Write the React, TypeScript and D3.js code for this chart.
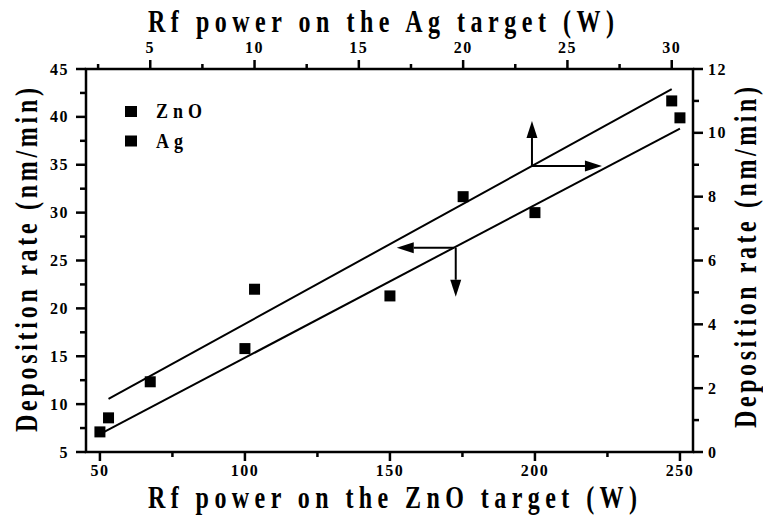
import React from "react";
import * as d3 from "d3";

// Measured series: ZnO against bottom/left axes, Ag against top/right axes
const znoPower = [50, 100, 150, 200, 250];
const znoRate = [7.1, 15.8, 21.3, 30.0, 39.9];
const agPower = [3, 5, 10, 20, 30];
const agRate = [1.07, 2.2, 5.1, 8.0, 11.0];

const bottomTicks = [50, 100, 150, 200, 250];
const bottomMinor = [75, 125, 175, 225];
const topTicks = [5, 10, 15, 20, 25, 30];
const topMinor = [2.5, 7.5, 12.5, 17.5, 22.5, 27.5];
const leftTicks = [5, 10, 15, 20, 25, 30, 35, 40, 45];
const leftMinor = [7.5, 12.5, 17.5, 22.5, 27.5, 32.5, 37.5, 42.5];
const rightTicks = [0, 2, 4, 6, 8, 10, 12];
const rightMinor = [1, 3, 5, 7, 9, 11];

const legendLabels = ["ZnO", "Ag"];
const titleTop = "Rf power on the Ag target (W)";
const titleBottom = "Rf power on the ZnO target (W)";
const titleY = "Deposition rate (nm/min)";

const FONT = "Liberation Serif, Times New Roman, serif";

function linFit(xs: number[], ys: number[]) {
  const mx = d3.mean(xs)!;
  const my = d3.mean(ys)!;
  let sxy = 0;
  let sxx = 0;
  xs.forEach((x, i) => {
    sxy += (x - mx) * (ys[i] - my);
    sxx += (x - mx) * (x - mx);
  });
  const slope = sxy / sxx;
  return (x: number) => my + slope * (x - mx);
}

function Arrow({ x1, y1, x2, y2 }: { x1: number; y1: number; x2: number; y2: number }) {
  const len = Math.hypot(x2 - x1, y2 - y1);
  const ux = (x2 - x1) / len;
  const uy = (y2 - y1) / len;
  const hl = 17;
  const hw = 5.5;
  const bx = x2 - ux * hl;
  const by = y2 - uy * hl;
  const pts = [
    [x2, y2],
    [bx - uy * hw, by + ux * hw],
    [bx + uy * hw, by - ux * hw],
  ];
  return (
    <g>
      <line x1={x1} y1={y1} x2={bx} y2={by} stroke="#000" strokeWidth={2} />
      <polygon points={pts.map((p) => p.join(",")).join(" ")} fill="#000" />
    </g>
  );
}

export default function App() {
  const L = 86,
    R = 693,
    T = 69,
    B = 452;
  const xBottom = d3.scaleLinear().domain([45.2, 254.5]).range([L, R]);
  const xTop = d3.scaleLinear().domain([1.92, 31.02]).range([L, R]);
  const yLeft = d3.scaleLinear().domain([5, 45]).range([B, T]);
  const yRight = d3.scaleLinear().domain([0, 12]).range([B, T]);

  const znoFit = linFit(znoPower, znoRate);
  const agFit = linFit(agPower, agRate);

  const znoLine = d3
    .line<number>()
    .x((d) => xBottom(d))
    .y((d) => yLeft(znoFit(d)));
  const agLine = d3
    .line<number>()
    .x((d) => xTop(d))
    .y((d) => yRight(agFit(d)));

  const sq = 11;
  const tickStyle: React.CSSProperties = {
    fontFamily: FONT,
    fontWeight: 700,
    fontSize: 16,
    letterSpacing: 1.5,
  };
  const titleStyle: React.CSSProperties = {
    fontFamily: FONT,
    fontWeight: 700,
    fontSize: 24,
  };

  // arrow anchor points on the fits
  const agAx = xTop(23.3);
  const agAy = yRight(agFit(23.3));
  const znAx = xBottom(172);
  const znAy = yLeft(znoFit(172));

  return (
    <svg
      width={763}
      height={518}
      style={{ position: "absolute", left: 0, top: 0, background: "#fff" }}
    >
      <rect width={763} height={518} fill="#fff" />

      {/* frame */}
      <rect x={L} y={T} width={R - L} height={B - T} fill="none" stroke="#000" strokeWidth={2.5} />

      {/* bottom axis */}
      {bottomTicks.map((t) => (
        <g key={"b" + t}>
          <line x1={xBottom(t)} x2={xBottom(t)} y1={B} y2={B + 9} stroke="#000" strokeWidth={2.5} />
          <text x={xBottom(t)} y={476} textAnchor="middle" style={tickStyle}>
            {t}
          </text>
        </g>
      ))}
      {bottomMinor.map((t) => (
        <line key={"bm" + t} x1={xBottom(t)} x2={xBottom(t)} y1={B} y2={B + 5} stroke="#000" strokeWidth={2.5} />
      ))}

      {/* top axis */}
      {topTicks.map((t) => (
        <g key={"t" + t}>
          <line x1={xTop(t)} x2={xTop(t)} y1={T} y2={T - 9} stroke="#000" strokeWidth={2.5} />
          <text x={xTop(t)} y={53} textAnchor="middle" style={tickStyle}>
            {t}
          </text>
        </g>
      ))}
      {topMinor.map((t) => (
        <line key={"tm" + t} x1={xTop(t)} x2={xTop(t)} y1={T} y2={T - 5} stroke="#000" strokeWidth={2.5} />
      ))}

      {/* left axis */}
      {leftTicks.map((t) => (
        <g key={"l" + t}>
          <line x1={L} x2={L - 10} y1={yLeft(t)} y2={yLeft(t)} stroke="#000" strokeWidth={2.5} />
          <text x={69} y={yLeft(t) + 5.5} textAnchor="end" style={tickStyle}>
            {t}
          </text>
        </g>
      ))}
      {leftMinor.map((t) => (
        <line key={"lm" + t} x1={L} x2={L - 6} y1={yLeft(t)} y2={yLeft(t)} stroke="#000" strokeWidth={2.5} />
      ))}

      {/* right axis */}
      {rightTicks.map((t) => (
        <g key={"r" + t}>
          <line x1={R} x2={R + 10} y1={yRight(t)} y2={yRight(t)} stroke="#000" strokeWidth={2.5} />
          <text x={708} y={yRight(t) + 5.5} textAnchor="start" style={tickStyle}>
            {t}
          </text>
        </g>
      ))}
      {rightMinor.map((t) => (
        <line key={"rm" + t} x1={R} x2={R + 6} y1={yRight(t)} y2={yRight(t)} stroke="#000" strokeWidth={2.5} />
      ))}

      {/* fit lines */}
      <path d={znoLine([50, 250]) || ""} fill="none" stroke="#000" strokeWidth={2} />
      <path d={agLine([3, 30]) || ""} fill="none" stroke="#000" strokeWidth={2} />

      {/* data */}
      {znoPower.map((p, i) => (
        <rect key={"z" + i} x={xBottom(p) - sq / 2} y={yLeft(znoRate[i]) - sq / 2} width={sq} height={sq} fill="#000" />
      ))}
      {agPower.map((p, i) => (
        <rect key={"a" + i} x={xTop(p) - sq / 2} y={yRight(agRate[i]) - sq / 2} width={sq} height={sq} fill="#000" />
      ))}

      {/* axis-direction arrows */}
      <Arrow x1={agAx} y1={agAy} x2={agAx} y2={agAy - 45} />
      <Arrow x1={agAx} y1={agAy} x2={agAx + 70} y2={agAy} />
      <Arrow x1={znAx} y1={znAy} x2={znAx - 57} y2={znAy} />
      <Arrow x1={znAx + 2} y1={znAy} x2={znAx + 2} y2={znAy + 49} />

      {/* legend */}
      {legendLabels.map((lab, i) => (
        <g key={lab}>
          <rect x={125} y={106 + i * 29.5} width={12} height={11} fill="#000" />
          <text
            transform={`translate(156,${118.3 + i * 30}) scale(1,1.2)`}
            style={{ fontFamily: FONT, fontWeight: 700, fontSize: 18, letterSpacing: 5 }}
          >
            {lab}
          </text>
        </g>
      ))}

      {/* axis titles */}
      <text transform="translate(148,32) scale(1,1.3)" style={titleStyle} textLength={466} lengthAdjust="spacing">
        {titleTop}
      </text>
      <text transform="translate(148,508) scale(1,1.3)" style={titleStyle} textLength={489} lengthAdjust="spacing">
        {titleBottom}
      </text>
      <text
        transform="translate(37,432) rotate(-90) scale(1,1.3)"
        style={titleStyle}
        textLength={344}
        lengthAdjust="spacing"
      >
        {titleY}
      </text>
      <text
        transform="translate(756,428) rotate(-90) scale(1,1.3)"
        style={titleStyle}
        textLength={341}
        lengthAdjust="spacing"
      >
        {titleY}
      </text>
    </svg>
  );
}
